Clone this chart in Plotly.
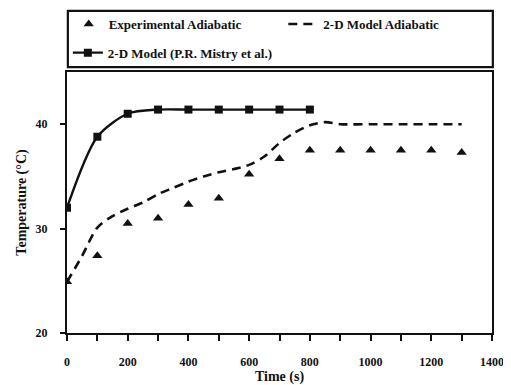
import plotly.graph_objects as go

# Experimental adiabatic (triangles)
time_exp = [0, 100, 200, 300, 400, 500, 600, 700, 800, 900, 1000, 1100, 1200, 1300]
temp_exp = [24.9, 27.4, 30.5, 31.0, 32.3, 32.9, 35.2, 36.7, 37.5, 37.5, 37.5, 37.5, 37.5, 37.3]

# 2-D model adiabatic (dashed)
time_model = [0, 50, 100, 150, 200, 250, 300, 350, 400, 450, 500, 550, 600, 650, 700,
              750, 800, 850, 900, 1000, 1100, 1200, 1300]
temp_model = [24.9, 27.4, 30.1, 31.2, 31.9, 32.5, 33.3, 33.9, 34.5, 35.0, 35.4, 35.7, 36.1,
              36.9, 38.2, 39.2, 39.9, 40.2, 40.0, 40.0, 40.0, 40.0, 40.0]

# 2-D model (P.R. Mistry et al.) (solid with squares)
time_mistry = [0, 100, 200, 300, 400, 500, 600, 700, 800]
temp_mistry = [32.0, 38.8, 41.0, 41.4, 41.4, 41.4, 41.4, 41.4, 41.4]

x_ticks = [0, 200, 400, 600, 800, 1000, 1200, 1400]
y_ticks = [20, 30, 40]

FONT = "Liberation Serif"

fig = go.Figure()
fig.add_trace(go.Scatter(
    x=time_exp, y=temp_exp, mode="markers", name="<b>Experimental Adiabatic</b>",
    marker=dict(symbol="triangle-up", size=9, color="#111111"), legend="legend"))
fig.add_trace(go.Scatter(
    x=time_model, y=temp_model, mode="lines", name="<b>2-D Model Adiabatic</b>",
    line=dict(color="#111111", width=2.6, dash="9px,6px", shape="spline", smoothing=0.8),
    legend="legend2"))
fig.add_trace(go.Scatter(
    x=time_mistry, y=temp_mistry, mode="lines+markers", name="<b>2-D Model (P.R. Mistry et al.)</b>",
    line=dict(color="#111111", width=2.4, shape="spline", smoothing=0.8),
    marker=dict(symbol="square", size=8, color="#111111"), legend="legend3"))

legend_common = dict(font=dict(family=FONT, size=13, color="#111111"),
                     bgcolor="rgba(0,0,0,0)", borderwidth=0,
                     xanchor="left", yanchor="middle")

fig.update_layout(
    width=503, height=377,
    margin=dict(l=59, r=19, t=64, b=52, autoexpand=False),
    paper_bgcolor="white", plot_bgcolor="white",
    font=dict(family=FONT, color="#111111"),
    showlegend=True,
    legend=dict(x=0.004, y=1.184, **legend_common),
    legend2=dict(x=0.509, y=1.184, **legend_common),
    legend3=dict(x=0.002, y=1.074, **legend_common),
    shapes=[dict(type="rect", xref="paper", yref="paper",
                 x0=0.002, x1=1.002, y0=1.019, y1=1.234,
                 line=dict(color="#111111", width=2.2))],
)

fig.update_xaxes(
    range=[0, 1400], tickvals=x_ticks, ticktext=[f"<b>{v}</b>" for v in x_ticks],
    ticks="outside", ticklen=6, tickwidth=2, tickcolor="#111111",
    minor=dict(dtick=100, tick0=0, ticks="outside", ticklen=6, tickwidth=2, tickcolor="#111111"),
    showline=True, linecolor="#111111", linewidth=2.4, mirror=True,
    showgrid=False, zeroline=False,
    tickfont=dict(family=FONT, size=12, color="#111111"),
    ticklabelstandoff=10,
    title=dict(text="<b>Time (s)</b>", font=dict(family=FONT, size=14, color="#111111"), standoff=4),
    automargin=False,
)
fig.update_yaxes(
    range=[20, 45], tickvals=y_ticks, ticktext=[f"<b>{v}</b>" for v in y_ticks],
    ticks="outside", ticklen=5, tickwidth=2, tickcolor="#111111",
    showline=True, linecolor="#111111", linewidth=2.4, mirror=True,
    showgrid=False, zeroline=False,
    tickfont=dict(family=FONT, size=12, color="#111111"),
    ticklabelstandoff=10,
    title=dict(text="<b>Temperature (°C)</b>", font=dict(family=FONT, size=14, color="#111111"), standoff=6),
    automargin=False,
)

fig.write_html("out.html")
